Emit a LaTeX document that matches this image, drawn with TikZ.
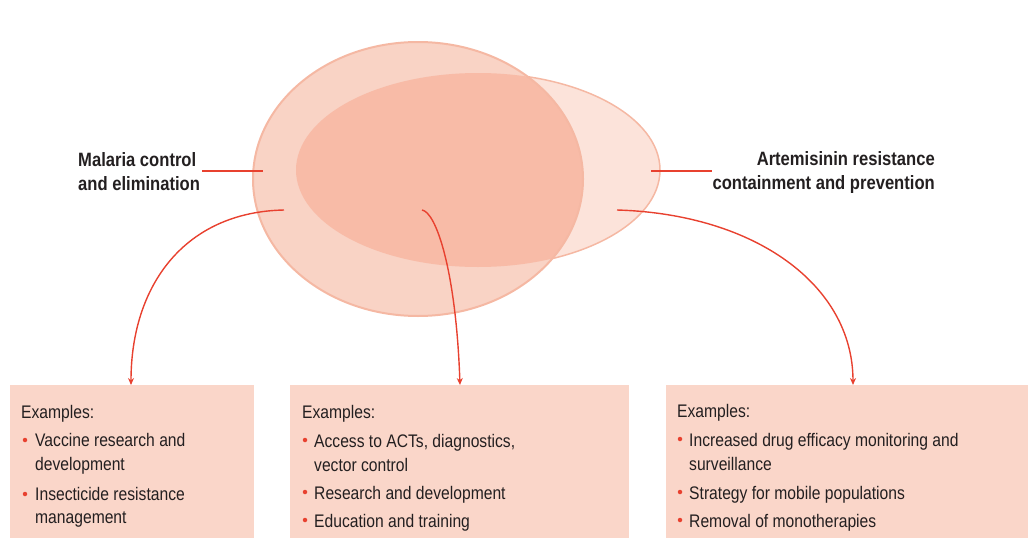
\documentclass[tikz,border=0pt]{standalone}
\usepackage{fontspec}
\setmainfont{Liberation Sans}[FakeStretch=0.86]
\usetikzlibrary{arrows.meta}
\definecolor{txt}{HTML}{231F20}
\definecolor{lnred}{HTML}{E8412F}
\definecolor{boxfill}{HTML}{FAD6C9}
\definecolor{circfill}{HTML}{F9D3C5}
\definecolor{circline}{HTML}{F5B8A3}
\definecolor{ovfill}{HTML}{F8BBA7}
\definecolor{ellfill}{HTML}{FCE3DA}
\begin{document}
\begin{tikzpicture}[x=1pt,y=-1pt,
  conn/.style={draw=lnred, line width=1.4pt, -{Stealth[length=7pt,width=6pt]}},
  tickline/.style={draw=lnred, line width=1.4pt},
  title/.style={text=txt, font=\fontsize{19.3}{24}\selectfont\bfseries, inner sep=0pt},
  body/.style={text=txt, font=\fontsize{18.2}{24}\selectfont, inner sep=0pt, anchor=base west},
  dot/.style={circle, fill=lnred, inner sep=0pt, minimum size=4.5pt},
  panel/.style={fill=boxfill, draw=none, inner sep=0pt, anchor=north west, minimum height=153pt},
  big/.style={x radius=165pt, y radius=137pt},
  flat/.style={x radius=182pt, y radius=97pt},
]
\useasboundingbox (0,0) rectangle (1030,538);

% overlapping ellipses
\coordinate (cc) at (418,179);
\coordinate (ec) at (478,170);
\fill[ellfill] (ec) ellipse [flat];
\draw[circline, line width=1.5pt] (ec) ellipse [flat];
\fill[circfill] (cc) ellipse [big];
\begin{scope}
  \clip (cc) ellipse [big];
  \fill[ovfill] (ec) ellipse [flat];
\end{scope}
\draw[circline, line width=2pt] (cc) ellipse [big];

% titles
\node[title, anchor=base west] (lt1) at (78,166) {Malaria control};
\node[title, anchor=base west] (lt2) at (78,190) {and elimination};
\node[title, anchor=base east] (rt1) at (935,165) {Artemisinin resistance};
\node[title, anchor=base east] (rt2) at (935,189) {containment and prevention};

\coordinate (la) at (202,171);
\coordinate (lb) at (263,171);
\coordinate (ra) at (651,171);
\coordinate (rb) at (712,171);
\draw[tickline] (la) -- (lb);
\draw[tickline] (ra) -- (rb);

% boxes
\node[panel, minimum width=244pt] (b1) at (10,385) {};
\node[panel, minimum width=339pt] (b2) at (290,385) {};
\node[panel, minimum width=362pt] (b3) at (666,385) {};

% connectors
\coordinate (s1) at (284,210);
\coordinate (s2) at (422,210);
\coordinate (s3) at (617,210);
\coordinate (t1) at (131,385);
\coordinate (t2) at (460,385);
\coordinate (t3) at (853,385);
\draw[conn] (s1) .. controls (185,212) and (131,285) .. (t1);
\draw[conn] (s2) .. controls (436,212) and (456,270) .. (t2);
\draw[conn] (s3) .. controls (755,214) and (853,285) .. (t3);

% box 1
\node[body] (e1) at (21,418) {Examples:};
\node[dot] (d11) at (25,440) {};
\node[body] (i11) at (35,446) {Vaccine research and};
\node[body] (i12) at (35,470) {development};
\node[dot] (d12) at (25,494) {};
\node[body] (i13) at (35,500) {Insecticide resistance};
\node[body] (i14) at (35,523) {management};

% box 2
\node[body] (e2) at (302,418) {Examples:};
\node[dot] (d21) at (305,440) {};
\node[body] (i21) at (314,447) {Access to ACTs, diagnostics,};
\node[body] (i22) at (314,471) {vector control};
\node[dot] (d22) at (305,492) {};
\node[body] (i23) at (314,499) {Research and development};
\node[dot] (d23) at (305,520) {};
\node[body] (i24) at (314,527) {Education and training};

% box 3
\node[body] (e3) at (677,417) {Examples:};
\node[dot] (d31) at (680,439) {};
\node[body] (i31) at (689,446) {Increased drug efficacy monitoring and};
\node[body] (i32) at (689,470) {surveillance};
\node[dot] (d32) at (680,492) {};
\node[body] (i33) at (689,499) {Strategy for mobile populations};
\node[dot] (d33) at (680,520) {};
\node[body] (i34) at (689,527) {Removal of monotherapies};
\end{tikzpicture}
\end{document}
